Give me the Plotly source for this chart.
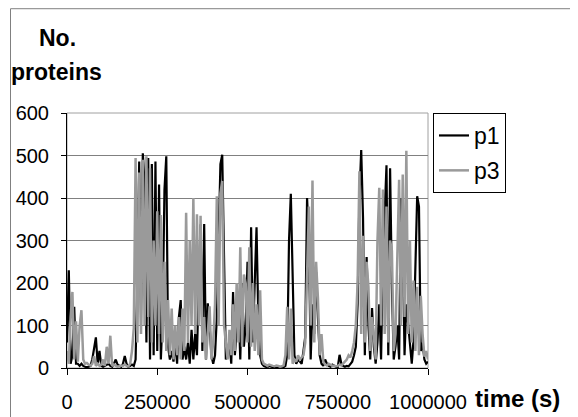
import plotly.graph_objects as go

# time axis (s), one sample every 5000 s
time_s = [i * 5000 for i in range(201)]

p1 = [60, 230, 10, 30, 144, 10, 10, 5, 10, 5,
      3, 2, 3, 5, 20, 50, 72, 10, 40, 5,
      3, 5, 8, 10, 5, 3, 10, 20, 8, 5,
      3, 10, 28, 10, 3, 5, 8, 5, 20, 214,
      486, 100, 505, 432, 60, 494, 20, 480, 30, 486,
      40, 432, 20, 132, 420, 498, 50, 20, 40, 15,
      60, 10, 120, 160, 20, 50, 20, 60, 10, 90,
      20, 80, 30, 200, 338, 40, 339, 20, 152, 100,
      30, 10, 30, 120, 300, 480, 502, 300, 20, 40,
      60, 10, 179, 30, 80, 150, 20, 200, 50, 100,
      250, 20, 331, 60, 200, 331, 113, 30, 10, 5,
      3, 2, 5, 3, 2, 1, 2, 3, 2, 1,
      2, 5, 30, 300, 410, 200, 30, 10, 20, 15,
      10, 40, 74, 400, 303, 20, 150, 80, 226, 120,
      30, 10, 5, 20, 10, 5, 3, 8, 5, 3,
      2, 31, 10, 5, 3, 5, 4, 10, 15, 30,
      50, 150, 400, 513, 354, 30, 261, 100, 20, 141,
      50, 10, 60, 150, 20, 250, 350, 477, 30, 470,
      191, 20, 51, 100, 20, 400, 300, 30, 150, 100,
      60, 10, 66, 250, 404, 380, 40, 60, 20, 10,
      15]

p3 = [40, 10, 120, 179, 20, 110, 15, 100, 136, 20,
      10, 12, 8, 6, 10, 28, 5, 10, 5, 8,
      20, 5, 50, 10, 76, 5, 8, 5, 3, 4,
      6, 5, 8, 5, 4, 10, 40, 94, 494, 60,
      460, 80, 490, 100, 498, 120, 470, 60, 300, 100,
      369, 80, 360, 60, 250, 40, 160, 30, 140, 20,
      100, 30, 120, 20, 140, 40, 365, 60, 300, 100,
      400, 80, 362, 100, 358, 60, 120, 20, 80, 145,
      20, 60, 150, 404, 100, 411, 440, 100, 60, 20,
      90, 30, 150, 40, 200, 60, 284, 50, 220, 199,
      60, 284, 50, 200, 40, 150, 30, 183, 20, 10,
      8, 5, 8, 6, 5, 4, 6, 5, 3, 4,
      6, 30, 144, 20, 140, 10, 20, 15, 30, 20,
      25, 30, 60, 200, 380, 100, 441, 60, 250, 167,
      30, 80, 15, 8, 6, 10, 8, 5, 6, 4,
      5, 8, 6, 10, 15, 20, 30, 25, 40, 60,
      100, 200, 463, 80, 311, 60, 250, 191, 40, 120,
      74, 20, 300, 424, 100, 420, 80, 380, 60, 300,
      276, 40, 80, 250, 443, 100, 455, 120, 511, 80,
      300, 60, 206, 40, 191, 30, 170, 80, 27, 40,
      20]

x_tick_vals = [0, 250000, 500000, 750000, 1000000]
x_tick_text = ["0", "250000", "500000", "750000", "1000000"]
y_tick_vals = [0, 100, 200, 300, 400, 500, 600]

FONT = "Liberation Sans, Arial, sans-serif"

# page body margin is 8 px, so the figure is drawn at (8, 8)
OFF = 8
W, H = 578 - OFF, 417 - OFF
L = 67 - OFF
T = 113 - OFF
R = W - (428 - OFF)
B = H - (368.5 - OFF)
pw = W - L - R
ph = H - T - B


def px_x(px):
    return (px - OFF - L) / pw


def px_y(py):
    return (H - B - (py - OFF)) / ph


fig = go.Figure()
fig.add_trace(go.Scatter(x=time_s, y=p1, mode="lines", name="p1",
                         line=dict(color="#000000", width=2.2),
                         legendgroup="a"))
fig.add_trace(go.Scatter(x=time_s, y=p3, mode="lines", name="p3",
                         line=dict(color="#9a9a9a", width=2.5),
                         legendgroup="b"))

fig.update_layout(
    width=W, height=H,
    margin=dict(l=L, r=R, t=T, b=B, autoexpand=False),
    paper_bgcolor="white", plot_bgcolor="white",
    font=dict(family=FONT, color="#000000", size=20),
    showlegend=True,
    legend=dict(x=px_x(433), y=px_y(113), xanchor="left", yanchor="top",
                bordercolor="#000000", borderwidth=1, bgcolor="white",
                font=dict(size=23, family=FONT), tracegroupgap=2,
                itemwidth=30),
    xaxis=dict(range=[0, 1000000], tickvals=x_tick_vals, ticktext=x_tick_text,
               showgrid=False, zeroline=False, showline=True,
               linecolor="#000000", linewidth=1, ticks="outside", ticklen=6,
               tickcolor="#000000", tickfont=dict(size=20, family=FONT),
               ticklabelstandoff=10),
    yaxis=dict(range=[0, 600], tickvals=y_tick_vals,
               showgrid=True, gridcolor="#808080", gridwidth=1,
               zeroline=False, showline=True, linecolor="#000000", linewidth=1,
               ticks="outside", ticklen=5, tickcolor="#000000",
               tickfont=dict(size=20, family=FONT), ticklabelstandoff=8),
)

# plot-area border (gray) and outer chart frame
fig.add_shape(type="rect", xref="paper", yref="paper", x0=0, x1=1, y0=0, y1=1,
              line=dict(color="#a0a0a0", width=1), layer="below")
fig.add_shape(type="rect", xref="paper", yref="paper",
              x0=px_x(10.5), x1=px_x(576.5), y0=px_y(430), y1=px_y(8.5),
              line=dict(color="#808080", width=1), layer="below")

fig.add_annotation(text="<b>No.</b>", xref="paper", yref="paper",
                   x=px_x(57), y=px_y(38), xanchor="center", yanchor="middle",
                   showarrow=False, font=dict(size=23, family=FONT))
fig.add_annotation(text="<b>proteins</b>", xref="paper", yref="paper",
                   x=px_x(56), y=px_y(72), xanchor="center", yanchor="middle",
                   showarrow=False, font=dict(size=23, family=FONT))
fig.add_annotation(text="<b>time (s)</b>", xref="paper", yref="paper",
                   x=px_x(517), y=px_y(399), xanchor="center", yanchor="middle",
                   showarrow=False, font=dict(size=24, family=FONT))

fig.write_html("out.html")
